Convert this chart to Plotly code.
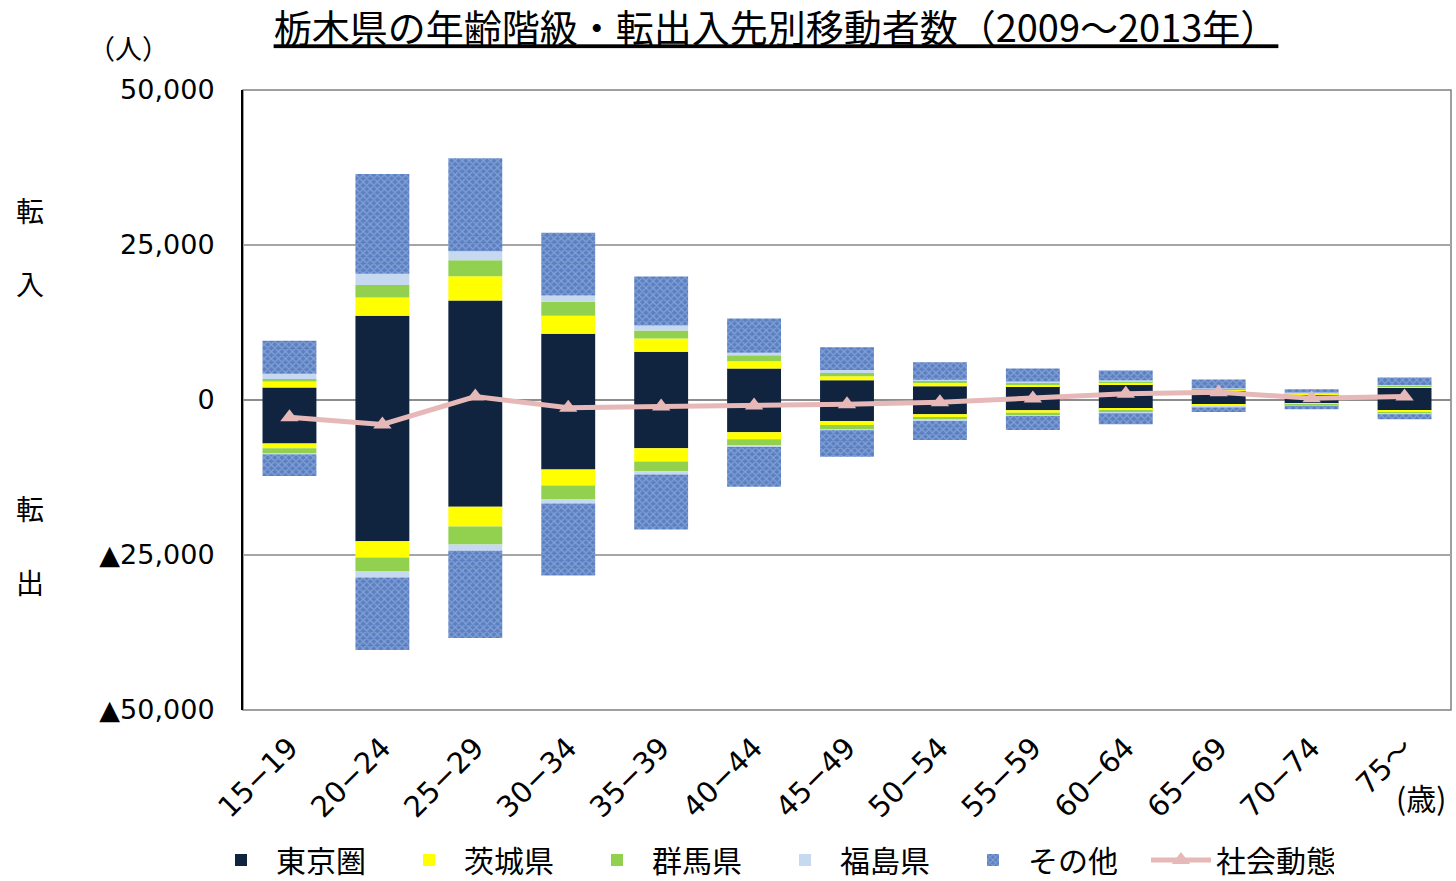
import plotly.graph_objects as go

categories = ["15−19", "20−24", "25−29", "30−34", "35−39", "40−44", "45−49",
              "50−54", "55−59", "60−64", "65−69", "70−74", "75～"]

# 転入 (in-migration) by origin
in_tokyo = [2000, 13600, 16050, 10700, 7800, 5100, 3200, 2200, 2200, 2500, 1500, 900, 1940]
in_ibaraki = [1000, 2950, 3900, 2900, 2100, 1130, 650, 650, 320, 320, 200, 160, 200]
in_gunma = [400, 2000, 2600, 2260, 1300, 970, 650, 270, 270, 200, 100, 50, 160]
in_fukushima = [850, 1800, 1450, 1000, 800, 430, 320, 160, 200, 160, 100, 100, 100]
in_other = [5300, 16100, 15000, 10100, 7900, 5500, 3700, 2800, 2100, 1560, 1400, 540, 1240]

# 転出 (out-migration) by destination (negative)
out_tokyo = [-7000, -22800, -17200, -11200, -7800, -5200, -3400, -2300, -1670, -1450, -700, -600, -1670]
out_ibaraki = [-800, -2600, -3200, -2600, -2100, -1130, -650, -600, -380, -320, -320, -160, -270]
out_gunma = [-750, -2260, -2900, -2260, -1600, -1070, -650, -270, -380, -200, -100, -50, -200]
out_fukushima = [-250, -970, -1000, -650, -500, -200, -160, -200, -160, -160, -100, -100, -160]
out_other = [-3450, -11700, -14100, -11600, -8900, -6400, -4300, -3100, -2260, -1770, -700, -600, -800]

# 社会動態 (net)
net = [-2800, -3950, 550, -1250, -1050, -900, -700, -350, 250, 1000, 1250, 270, 550]

tick_vals = [-50000, -25000, 0, 25000, 50000]
tick_text = ["▲50,000", "▲25,000", "0", "25,000", "50,000"]

FONT = "DejaVu Sans, Noto Sans CJK JP, sans-serif"
JFONT = "Noto Sans CJK JP, sans-serif"

series = [
    ("東京圏", in_tokyo, out_tokyo, dict(color="#10243f")),
    ("茨城県", in_ibaraki, out_ibaraki, dict(color="#ffff00")),
    ("群馬県", in_gunma, out_gunma, dict(color="#92d050")),
    ("福島県", in_fukushima, out_fukushima, dict(color="#c6d9f0")),
    ("その他", in_other, out_other,
     dict(color="#5b7fc0",
          pattern=dict(shape="x", fgcolor="#a9c4ee", bgcolor="#5b7fc0", size=5, solidity=0.45))),
]

fig = go.Figure()
for name, vin, _, mk in series:
    fig.add_trace(go.Bar(x=categories, y=vin, name=name, legendgroup=name,
                         marker=dict(line=dict(width=0), **mk), showlegend=True))
for name, _, vout, mk in series:
    fig.add_trace(go.Bar(x=categories, y=vout, name=name, legendgroup=name,
                         marker=dict(line=dict(width=0), **mk), showlegend=False))

fig.add_trace(go.Scatter(x=categories, y=net, name="社会動態", mode="lines+markers",
                         line=dict(color="#e6b9b8", width=5),
                         marker=dict(symbol="triangle-up", size=16, color="#e6b9b8")))

fig.update_layout(
    width=1456, height=881,
    margin=dict(l=243, r=5, t=90, b=171, autoexpand=False),
    barmode="relative", bargap=0.42,
    plot_bgcolor="white", paper_bgcolor="white",
    font=dict(family=FONT, size=26, color="#000000"),
    title=dict(text="<u>栃木県の年齢階級・転出入先別移動者数（2009～2013年）</u>",
               x=776 / 1456, xanchor="center", y=1 - 29 / 881, yanchor="middle",
               font=dict(family=JFONT, size=38, color="#000000")),
    legend=dict(orientation="h", xref="container", x=206 / 1456, xanchor="left",
                yref="container", y=(881 - 860) / 881, yanchor="middle",
                font=dict(family=JFONT, size=30), itemwidth=60,
                entrywidth=113, entrywidthmode="pixels", traceorder="normal",
                bgcolor="rgba(0,0,0,0)"),
    showlegend=True,
)

fig.update_xaxes(range=[-0.5, len(categories) - 0.5], tickangle=-45,
                 showgrid=False, showline=False, ticks="",
                 automargin=False, ticklabelstandoff=14,
                 tickfont=dict(family=FONT, size=29))
fig.update_yaxes(range=[-50000, 50000], tickvals=tick_vals, ticktext=tick_text,
                 showgrid=True, gridcolor="#a6a6a6", gridwidth=1.5,
                 zeroline=True, zerolinecolor="#8c8c8c", zerolinewidth=2,
                 showline=True, linecolor="#000000", linewidth=2, ticks="",
                 automargin=False, ticklabelstandoff=21,
                 tickfont=dict(family=FONT, size=27))

# plot-area border
fig.add_shape(type="rect", xref="paper", yref="paper", x0=0, x1=1, y0=0, y1=1,
              line=dict(color="#808080", width=1.5), layer="below")

anns = [
    ("（人）", 128, 47, 27),
    ("転", 30, 210, 28), ("入", 30, 283, 28),
    ("転", 30, 508, 28), ("出", 30, 582, 28),
    ("(歳)", 1421, 797, 30),
]
for t, px, py, fs in anns:
    fig.add_annotation(text=t, xref="paper", yref="paper",
                       x=(px - 243) / 1208, y=(710 - py) / 620,
                       xanchor="center", yanchor="middle", showarrow=False,
                       font=dict(family=JFONT, size=fs, color="#000000"))

fig.write_html("out.html", config={"displayModeBar": False},
               post_script="document.body.style.margin='0px';document.body.style.overflow='hidden';")
